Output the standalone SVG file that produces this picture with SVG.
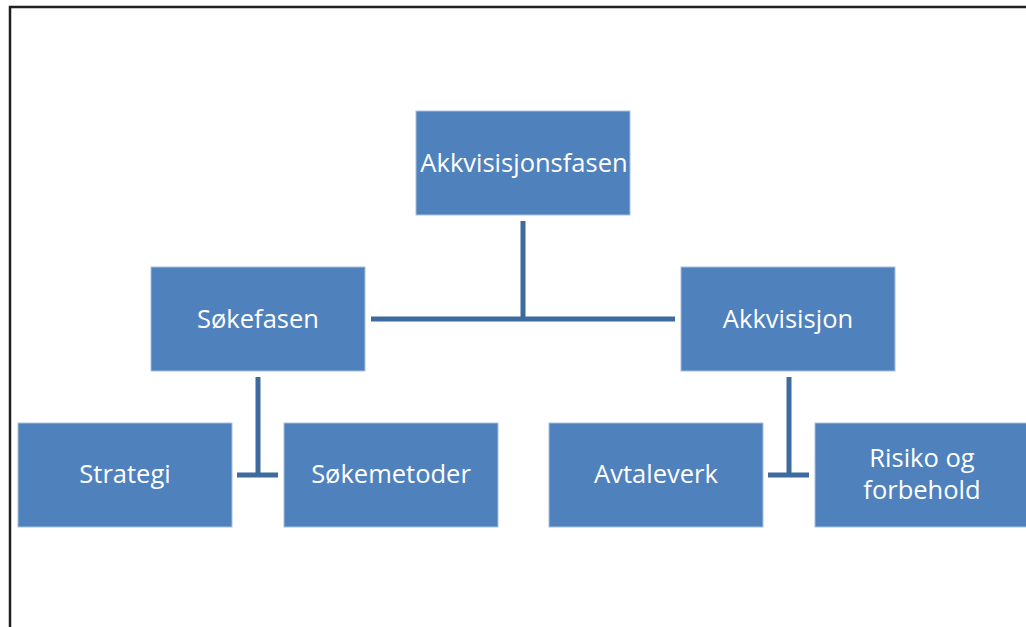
<svg xmlns="http://www.w3.org/2000/svg" width="1026" height="627" viewBox="0 0 1026 627">
<style>
.box{fill:#4f81bd;stroke:#a9c0de;stroke-width:1}
.t{font-family:"Open Sans","Liberation Sans",sans-serif;font-size:25.5px;fill:#fff;text-anchor:middle;dominant-baseline:central}
.c{stroke:#3d6b9f;stroke-width:5;fill:none}
</style>
<rect x="0" y="0" width="1026" height="627" fill="#fff"/>
<path d="M10,627 V7 H1026" fill="none" stroke="#231f20" stroke-width="2.5"/>
<g id="connectors">
<path class="c" d="M523,221 V320"/>
<path class="c" d="M371,319 H675"/>
<path class="c" d="M258,377 V475"/>
<path class="c" d="M237,475 H278"/>
<path class="c" d="M789,377 V475"/>
<path class="c" d="M768,475 H809"/>
</g>
<g id="n1"><rect class="box" x="416" y="111" width="214" height="104"/><text class="t" x="524" y="162">Akkvisisjonsfasen</text></g>
<g id="n2"><rect class="box" x="151" y="267" width="214" height="104"/><text class="t" x="258" y="318">Søkefasen</text></g>
<g id="n3"><rect class="box" x="681" y="267" width="214" height="104"/><text class="t" x="788" y="318">Akkvisisjon</text></g>
<g id="n4"><rect class="box" x="18" y="423" width="214" height="104"/><text class="t" x="125" y="473">Strategi</text></g>
<g id="n5"><rect class="box" x="284" y="423" width="214" height="104"/><text class="t" x="391" y="473">Søkemetoder</text></g>
<g id="n6"><rect class="box" x="549" y="423" width="214" height="104"/><text class="t" x="656" y="473">Avtaleverk</text></g>
<g id="n7"><rect class="box" x="815" y="423" width="214" height="104"/><text class="t" x="922" y="457">Risiko og</text><text class="t" x="922" y="489">forbehold</text></g>
</svg>
